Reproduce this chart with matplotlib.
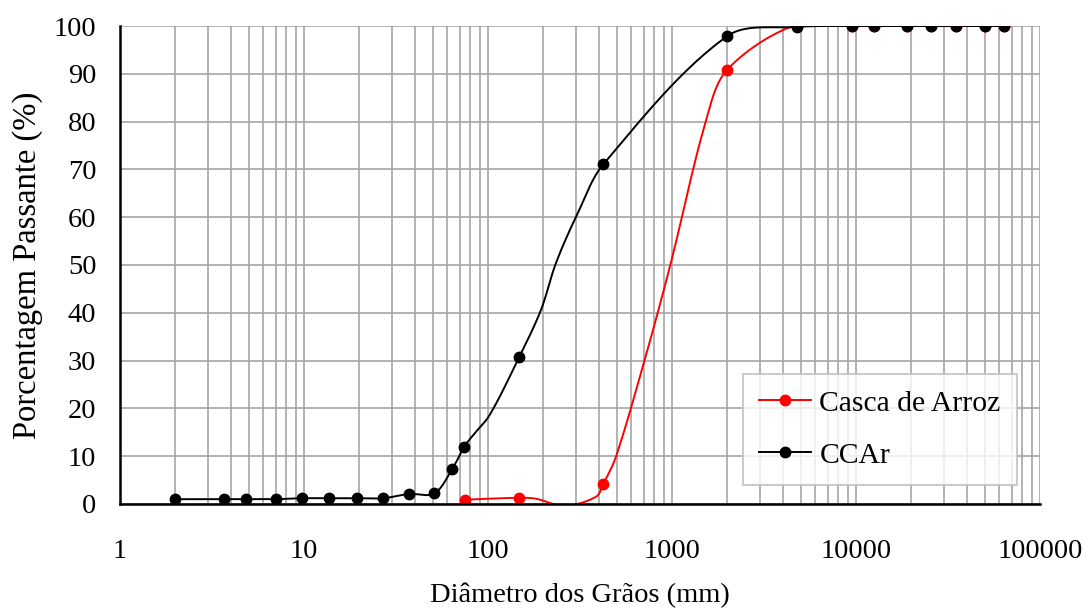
import numpy as np
import matplotlib.pyplot as plt
from matplotlib.ticker import LogLocator, FixedLocator, NullFormatter

plt.rcParams["font.family"] = ["Liberation Serif", "DejaVu Serif"]

ccar_x = [2.0, 3.68, 4.82, 7.0, 9.7, 13.6, 19.4, 26.9, 37, 51, 63.9, 74.3,
          148, 424, 2000, 4750, 9500, 12600, 19000, 25500, 35000, 50500, 63800]
ccar_y = [1.0, 1.0, 1.0, 1.0, 1.2, 1.2, 1.2, 1.2, 2.1, 2.2, 7.3, 12.0,
          30.8, 71.1, 97.9, 99.8, 100, 100, 100, 100, 100, 100, 100]

casca_x = [74.6, 148, 424, 2000, 4750, 9500, 12600, 19000, 25500, 35000, 50500, 63800]
casca_y = [0.9, 1.3, 4.2, 90.9, 100.3, 100, 100, 100, 100, 100, 100, 100]

# intermediate points of the drawn curves (no marker)
ccar_curve_x = [83, 102, 194, 234, 307]
ccar_curve_y = [14.4, 18.6, 40.6, 50.4, 60.8]

casca_curve_x = [182, 260, 386, 496, 706, 985, 1525]
casca_curve_y = [1.1, -0.4, 1.5, 9.9, 29.8, 50.4, 80.0]

x_ticks = [1, 10, 100, 1000, 10000, 100000]
y_ticks = list(range(0, 101, 10))

fig = plt.figure(figsize=(10.88, 6.12), dpi=100)
ax = fig.add_axes([0.1103, 0.1765, 0.8456, 0.7810])
ax.set_xscale("log")
ax.set_xlim(1, 100000)
ax.set_ylim(0, 100)


def merged(mx, my, cx, cy):
    order = np.argsort(list(mx) + list(cx))
    xs = np.array(list(mx) + list(cx), dtype=float)[order]
    ys = np.array(list(my) + list(cy), dtype=float)[order]
    return xs, ys


def smooth(xs, ys, n=30):
    # Excel-like smoothed line: Bezier segments with chord-scaled tangents,
    # computed in display space
    pts = ax.transData.transform(np.column_stack([xs, ys]))
    m = len(pts)
    out = [pts[0]]
    for i in range(m - 1):
        p1, p2 = pts[i], pts[i + 1]
        d12 = np.linalg.norm(p2 - p1)
        if i > 0:
            p0 = pts[i - 1]
            t1 = (p2 - p0) / (np.linalg.norm(p1 - p0) + d12)
        else:
            t1 = (p2 - p1) / d12
        if i < m - 2:
            p3 = pts[i + 2]
            t2 = (p3 - p1) / (d12 + np.linalg.norm(p3 - p2))
        else:
            t2 = (p2 - p1) / d12
        c1 = p1 + t1 * d12 / 3
        c2 = p2 - t2 * d12 / 3
        t = np.linspace(0, 1, n)[1:, None]
        seg = ((1 - t) ** 3) * p1 + 3 * ((1 - t) ** 2) * t * c1 \
            + 3 * (1 - t) * t ** 2 * c2 + t ** 3 * p2
        out.extend(seg)
    data = ax.transData.inverted().transform(np.array(out))
    return data[:, 0], data[:, 1]


ax.xaxis.set_major_locator(FixedLocator(x_ticks))
ax.xaxis.set_minor_locator(LogLocator(base=10, subs=np.arange(2, 10)))
ax.xaxis.set_minor_formatter(NullFormatter())
ax.set_xticklabels([str(v) for v in x_ticks])
ax.set_yticks(y_ticks)

ax.grid(True, which="both", axis="x", color="#a6a6a6", linewidth=1.2)
ax.grid(True, which="major", axis="y", color="#a6a6a6", linewidth=1.2)
ax.set_axisbelow(True)

for side in ["top", "right"]:
    ax.spines[side].set_visible(False)
for side in ["left", "bottom"]:
    ax.spines[side].set_linewidth(1.8)
    ax.spines[side].set_color("black")
ax.spines["bottom"].set_zorder(8)

ax.tick_params(axis="both", which="both", length=0, labelsize=20.5)
ax.tick_params(axis="x", pad=25)
ax.tick_params(axis="y", pad=17)

sx, sy = smooth(*merged(casca_x, casca_y, casca_curve_x, casca_curve_y))
ax.plot(sx, sy, color="#ff0000", linewidth=1.4, zorder=3)
ax.plot(casca_x, casca_y, "o", color="#ff0000", markersize=7.5, zorder=4)

bx, by = smooth(*merged(ccar_x, ccar_y, ccar_curve_x, ccar_curve_y))
ax.plot(bx, by, color="black", linewidth=1.4, zorder=5)
ax.plot(ccar_x, ccar_y, "o", color="black", markersize=7.5, zorder=6)

# legend handles
ax.plot([], [], "-o", color="#ff0000", markersize=7.5, linewidth=1.4, label="Casca de Arroz")
ax.plot([], [], "-o", color="black", markersize=7.5, linewidth=1.4, label="CCAr")

leg = ax.legend(loc="lower right", bbox_to_anchor=(0.975, 0.04), fontsize=21.3,
                frameon=True, fancybox=False, edgecolor="#bfbfbf",
                borderpad=0.55, labelspacing=0.85, handlelength=1.75,
                handletextpad=0.3, borderaxespad=0)
leg.get_frame().set_linewidth(1.5)
leg.set_zorder(10)

ax.set_xlabel("Diâmetro dos Grãos (mm)", fontsize=20.5, labelpad=14)
ax.set_ylabel("Porcentagem Passante (%)", fontsize=23.5, labelpad=8)

fig.savefig("out.png", dpi=100)
